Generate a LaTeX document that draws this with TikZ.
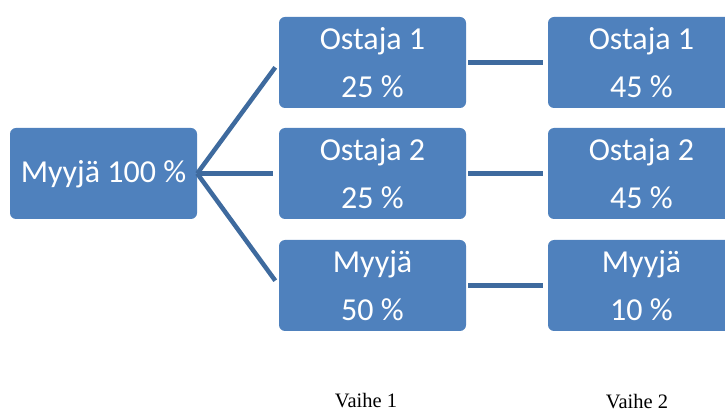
\documentclass[tikz,border=0pt]{standalone}
\usepackage{fontspec}
\newfontfamily\carlito{Carlito}
\newfontfamily\libserif{Liberation Serif}
\definecolor{boxblue}{HTML}{4F81BD}
\definecolor{linkblue}{HTML}{3E6A9E}
\tikzset{
  stagebox/.style={rectangle, rounded corners=6pt, fill=boxblue, draw=none,
    minimum width=187pt, minimum height=91pt, inner sep=0pt, text=white,
    align=center, font=\carlito\fontsize{32}{48}\selectfont},
  link/.style={draw=linkblue, line width=4.5pt},
  stagelabel/.style={anchor=base, inner sep=0pt, font=\libserif\fontsize{20.5}{24}\selectfont}
}
\begin{document}
\begin{tikzpicture}[x=1pt,y=-1pt]
\useasboundingbox (0,0) rectangle (725,411);
\begin{scope}
\clip (0,0) rectangle (725,411);
\node[stagebox, text height=19pt, text depth=0pt] (s) at (103.5,173.5) {Myyjä 100 \%};
\node[stagebox] (m1) at (372.5,62.5) {Ostaja 1\\25 \%};
\node[stagebox] (m2) at (372.5,173.5) {Ostaja 2\\25 \%};
\node[stagebox] (m3) at (372.5,285.5) {Myyjä\\50 \%};
\node[stagebox] (r1) at (641.5,62.5) {Ostaja 1\\45 \%};
\node[stagebox] (r2) at (641.5,173.5) {Ostaja 2\\45 \%};
\node[stagebox] (r3) at (641.5,285.5) {Myyjä\\10 \%};
\draw[link, shorten >=6pt] (s.east) -- (m1.west);
\draw[link, shorten >=6pt] (s.east) -- (m2.west);
\draw[link, shorten >=6pt] (s.east) -- (m3.west);
\draw[link, shorten <=2pt, shorten >=5pt] (m1.east) -- (r1.west);
\draw[link, shorten <=2pt, shorten >=5pt] (m2.east) -- (r2.west);
\draw[link, shorten <=2pt, shorten >=5pt] (m3.east) -- (r3.west);
\node[stagelabel] (v1) at (366,407) {Vaihe 1};
\node[stagelabel] (v2) at (637,408) {Vaihe 2};
\end{scope}
\end{tikzpicture}
\end{document}
